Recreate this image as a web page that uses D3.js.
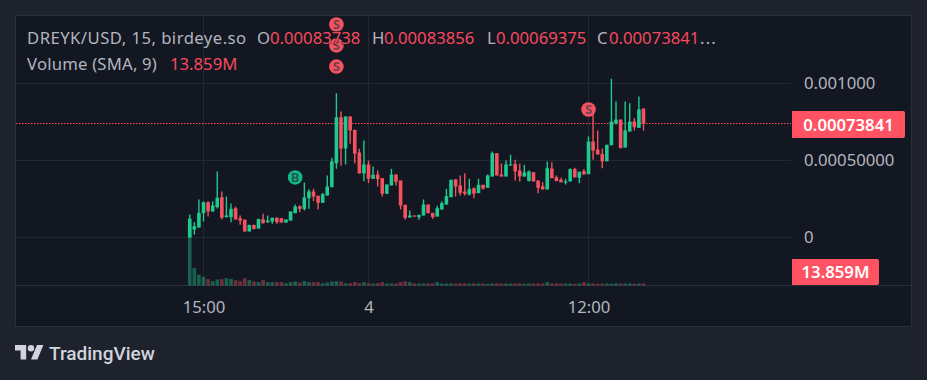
<!DOCTYPE html>
<html>
<head>
<meta charset="utf-8">
<script src="https://cdn.jsdelivr.net/npm/d3@7"></script>
<style>
    html, body { margin: 0; padding: 0; background: #1e222d; overflow: hidden; }
    text { font-family: "Noto Sans", sans-serif; }
</style>
</head>
<body>
<svg id="chart" width="927" height="380"></svg>
<script>
// bar number counted from the 15:00 candle, prices are in millionths of a USD
const firstBar = -3;
const open = [0,52,65,158,229,169,197,262,132,132,190,125,115,39,82,58,119,99,104,128,125,97,110,158,203,186,255,299,271,225,273,327,482,781,578,786,699,552,416,474,381,409,385,284,338,409,370,212,130,143,132,143,214,160,136,182,214,262,377,338,299,279,320,288,342,323,396,547,409,396,468,476,435,396,366,424,370,333,312,448,392,375,357,364,444,388,431,411,623,571,543,495,599,742,766,584,688,753,712,837.38];
const high = [149,99,247,234,236,236,429,299,266,221,201,143,117,82,82,123,154,143,128,132,125,117,169,214,208,357,314,316,273,290,403,518,937,818,786,786,699,576,630,500,461,435,385,344,446,409,370,212,175,143,147,247,214,160,206,236,316,375,381,403,418,381,327,381,342,409,558,547,481,500,537,505,479,472,435,424,370,359,494,489,403,388,381,448,453,427,444,656,805,695,578,602,1031,883,766,883,872,775,916,838.56];
const low = [0,19,65,104,136,169,188,119,130,99,117,82,39,39,52,58,91,95,89,89,97,97,110,158,164,175,186,236,182,225,273,327,446,466,474,608,482,416,366,353,381,331,266,284,338,338,182,115,130,136,115,143,158,121,136,182,214,262,266,273,273,273,255,288,310,323,396,403,396,396,468,370,364,396,366,364,288,312,312,385,366,359,344,364,390,353,409,411,505,539,450,495,599,734,580,584,688,695,712,693.75];
const close = [123,73,160,229,169,208,258,128,143,186,117,110,39,82,56,119,93,110,128,99,97,117,169,201,186,260,299,266,225,281,331,494,781,578,786,695,545,416,474,381,407,379,284,344,409,362,208,128,143,136,147,214,158,132,190,223,268,375,331,290,284,316,284,342,318,403,547,403,396,474,474,429,396,422,429,364,323,312,450,385,366,359,364,444,390,427,409,623,565,539,495,602,753,766,580,695,753,716,831,738.41];
// volume in millions
const volume = [66,19.5,12,9.5,7,4.8,6.6,7,8,7.3,5.9,4.8,8,5.9,4.4,3.7,5.9,3.7,3.7,3.7,3.7,2.5,3.7,4.4,3.3,4.8,3.7,3.7,3.7,2.5,3.3,4.4,4.8,4.4,2.5,2.5,3.7,2.5,3.7,2.2,2.2,2.5,3.7,2.2,2.2,2.2,3.7,4.4,3.7,2.2,2.2,2.2,2.2,2.2,3.7,2.2,2.2,2.2,2.2,2.2,2.2,2.2,2.2,2.2,2.2,1.9,2.2,2.2,2.2,2.2,2.2,2.2,2.2,1.9,2.2,2.2,2.2,2.2,3.7,2.2,2.2,2.2,2.2,2.2,1.9,2.2,3.7,2.2,2.2,1.9,2.2,2.2,1.9,2.2,2.2,2.2,2.2,1.9,2.2,2.2];

const timeTicks = [0, 36, 84];
const timeLabels = ["15:00", "4", "12:00"];
const priceTicks = [0, 500, 1000];
const priceLabels = ["0", "0.00050000", "0.001000"];

const markerBars = [29, 29, 29, 20, 84];
const markerPrices = [1383, 1247, 1110, 390, 831];
const markerKinds = ["S", "S", "S", "B", "S"];

const legendTitle = "DREYK/USD, 15, birdeye.so";
const legendNames = ["O", "H", "L", "C"];
const legendValues = ["0.00083738", "0.00083856", "0.00069375", "0.00073841"];
const volumeTitle = "Volume (SMA, 9)";
const lastPrice = 738.41;
const lastPriceLabel = "0.00073841";
const lastVolumeLabel = "13.859M";

const UP = "#1fc98f";
const DOWN = "#f4525f";
const LABEL_RED = "#f64a5c";
const AXIS_TEXT = "#b2b5be";
const GRID = "#242833";
const BORDER = "#2a2e39";
const FONT = "\"Noto Sans\", sans-serif";

const svg = d3.select("#chart");
const bars = d3.range(open.length).map(i => i + firstBar);

const x = d3.scaleLinear().domain([0, 36]).range([203.5, 368.5]);
const y = d3.scaleLinear().domain([0, 1000]).range([237.5, 83.5]);
const v = d3.scaleLinear().domain([0, 110]).range([285.5, 185.5]);
const snap = a => Math.round(a - 0.5) + 0.5;

// panel
svg.append("rect").attr("width", 927).attr("height", 380).attr("fill", "#1e222d");
svg.append("rect")
    .attr("x", 15.5).attr("y", 15.5)
    .attr("width", 896).attr("height", 311)
    .attr("fill", "#131722")
    .attr("stroke", BORDER)
    .attr("stroke-width", 1);

// grid
const grid = svg.append("g").attr("shape-rendering", "crispEdges");
grid.selectAll(".v-grid").data(timeTicks).join("line")
    .attr("class", "v-grid")
    .attr("x1", d => snap(x(d))).attr("x2", d => snap(x(d)))
    .attr("y1", 16).attr("y2", 285)
    .attr("stroke", GRID);
grid.selectAll(".h-grid").data(priceTicks).join("line")
    .attr("class", "h-grid")
    .attr("x1", 16).attr("x2", 791)
    .attr("y1", d => snap(y(d))).attr("y2", d => snap(y(d)))
    .attr("stroke", GRID);
grid.append("line")
    .attr("x1", 16).attr("x2", 911)
    .attr("y1", 285.5).attr("y2", 285.5)
    .attr("stroke", BORDER);

// volume
svg.append("g")
    .selectAll("rect").data(bars).join("rect")
    .attr("x", d => x(d) - 1.8)
    .attr("width", 3.6)
    .attr("y", (d, i) => v(volume[i]))
    .attr("height", (d, i) => v(0) - v(volume[i]))
    .attr("fill", (d, i) => close[i] >= open[i] ? UP : DOWN)
    .attr("opacity", 0.42);

// last price line
svg.append("line")
    .attr("x1", 16).attr("x2", 791)
    .attr("y1", snap(y(lastPrice))).attr("y2", snap(y(lastPrice)))
    .attr("stroke", "#ff4a5e")
    .attr("stroke-width", 1.2)
    .attr("stroke-dasharray", "1.5 1.5");

// candles
const candles = svg.append("g");
candles.selectAll(".wick").data(bars).join("line")
    .attr("class", "wick")
    .attr("x1", d => x(d)).attr("x2", d => x(d))
    .attr("y1", (d, i) => y(high[i])).attr("y2", (d, i) => y(low[i]))
    .attr("stroke-width", 1.4)
    .attr("stroke", (d, i) => close[i] >= open[i] ? UP : DOWN);
candles.selectAll(".body").data(bars).join("rect")
    .attr("class", "body")
    .attr("x", d => x(d) - 1.8)
    .attr("width", 3.6)
    .attr("y", (d, i) => y(Math.max(open[i], close[i])))
    .attr("height", (d, i) => Math.max(1, Math.abs(y(open[i]) - y(close[i]))))
    .attr("fill", (d, i) => close[i] >= open[i] ? UP : DOWN);

// buy and sell markers
const markers = svg.append("g").selectAll("g").data(markerKinds).join("g")
    .attr("transform", (d, i) => `translate(${x(markerBars[i])},${y(markerPrices[i])})`);
markers.append("circle")
    .attr("r", 7.3)
    .attr("fill", d => d === "S" ? "#f7525f" : "#12b886");
markers.append("text")
    .attr("text-anchor", "middle")
    .attr("y", 4.6)
    .attr("font-size", 13)
    .attr("font-weight", 700)
    .attr("fill", d => d === "S" ? "#6b4450" : "#1b5c55")
    .text(d => d);

// axes
const timeAxis = d3.axisBottom(x)
    .tickValues(timeTicks)
    .tickFormat((d, i) => timeLabels[i])
    .tickSize(0);
const timeG = svg.append("g")
    .attr("transform", "translate(0,285)")
    .call(timeAxis);
timeG.select(".domain").remove();
timeG.selectAll("text")
    .attr("y", 28).attr("dy", 0)
    .attr("fill", AXIS_TEXT)
    .style("font-family", FONT)
    .style("font-size", "16.7px");

const priceAxis = d3.axisRight(y)
    .tickValues(priceTicks)
    .tickFormat((d, i) => priceLabels[i])
    .tickSize(0);
const priceG = svg.append("g")
    .attr("transform", "translate(792,0)")
    .call(priceAxis);
priceG.select(".domain").remove();
priceG.selectAll("text")
    .attr("x", 12)
    .attr("fill", AXIS_TEXT)
    .style("font-family", FONT)
    .style("font-size", "16.7px");

// value labels on the price axis
function axisBadge(top, width, height, label) {
    svg.append("path")
        .attr("d", `M792,${top}H${792 + width - 2}a2,2 0 0 1 2,2V${top + height - 2}a2,2 0 0 1 -2,2H792Z`)
        .attr("fill", "#ff5263");
    svg.append("text")
        .attr("x", 792 + width / 2).attr("y", top + height / 2 + 6)
        .attr("text-anchor", "middle")
        .attr("fill", "#fff")
        .attr("font-size", 16.7)
        .attr("font-weight", 600)
        .text(label);
}
axisBadge(111, 113, 27, lastPriceLabel);
axisBadge(259, 87, 26, lastVolumeLabel);

// legend
const legend = svg.append("g").attr("font-size", 16.7);
legend.append("text").attr("x", 27).attr("y", 44)
    .attr("fill", AXIS_TEXT)
    .attr("letter-spacing", 0.45)
    .text(legendTitle);
const nameX = [257, 372, 487, 597];
const valueX = [270, 384, 496, 609];
legendNames.forEach((name, i) => {
    legend.append("text").attr("x", nameX[i]).attr("y", 44).attr("fill", AXIS_TEXT).text(name);
    legend.append("text").attr("x", valueX[i]).attr("y", 44)
        .attr("fill", LABEL_RED)
        .attr("stroke", "#131722")
        .attr("stroke-opacity", 0.5)
        .attr("stroke-width", 2)
        .attr("paint-order", "stroke")
        .text(legendValues[i]);
});
legend.append("text").attr("x", 700).attr("y", 44).attr("fill", AXIS_TEXT).attr("letter-spacing", 1.2).text("...");
legend.append("text").attr("x", 27).attr("y", 70)
    .attr("fill", AXIS_TEXT)
    .attr("letter-spacing", 0.2)
    .text(volumeTitle);
legend.append("text").attr("x", 170).attr("y", 70).attr("fill", LABEL_RED).text(lastVolumeLabel);

// TradingView logo
const logo = svg.append("g").attr("transform", "translate(15,341.8) scale(0.8)").attr("fill", "#d1d4dc");
logo.append("path").attr("d", "M14 22H7V11H0V4h14v18zM28 22h-8l7.5-18h8L28 22z");
logo.append("circle").attr("cx", 20).attr("cy", 8).attr("r", 4);
svg.append("text")
    .attr("x", 49).attr("y", 360)
    .attr("fill", "#d1d4dc")
    .attr("font-size", 19)
    .attr("font-weight", 500)
    .style("font-family", "Roboto, sans-serif")
    .text("TradingView");
</script>
</body>
</html>
